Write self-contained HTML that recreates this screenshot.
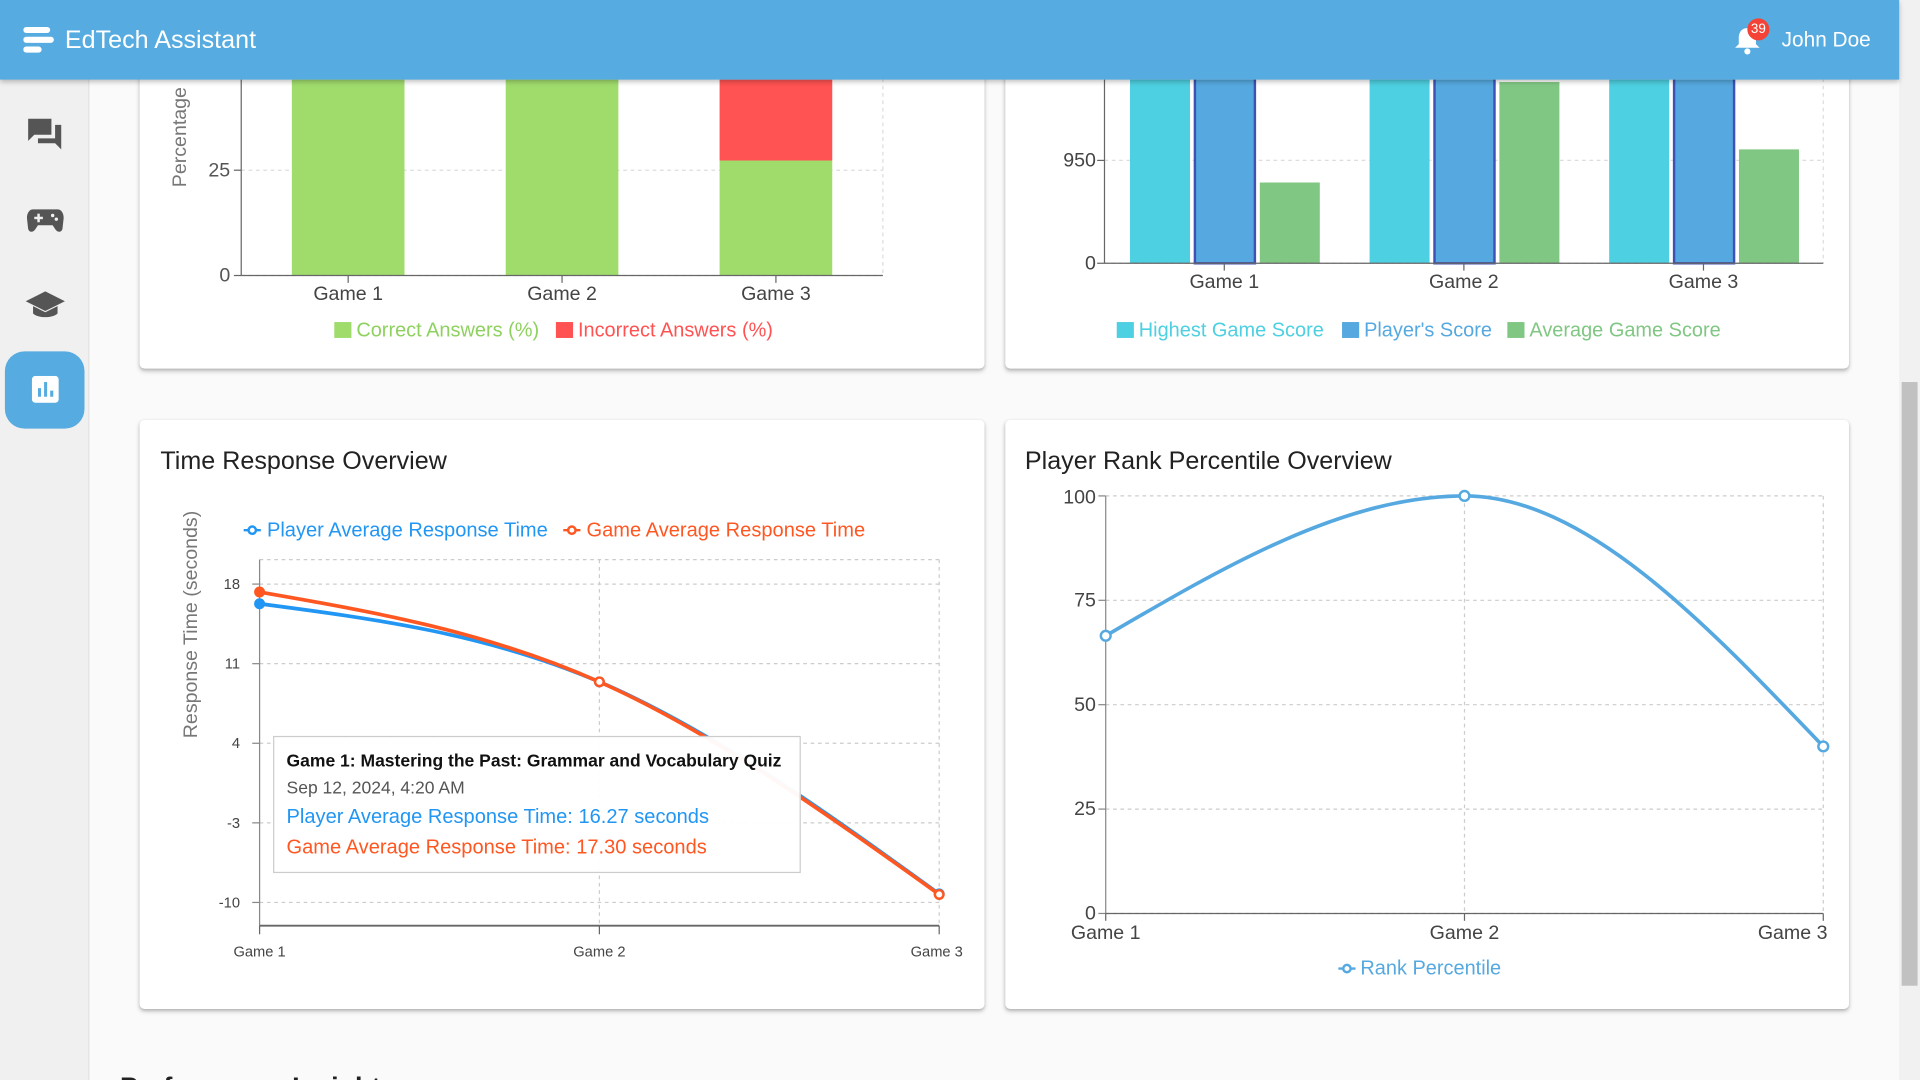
<!DOCTYPE html>
<html><head><meta charset="utf-8"><style>
*{box-sizing:border-box;margin:0;padding:0}
body{width:1920px;height:1080px;overflow:hidden;background:#fafafa;font-family:"Liberation Sans",Arial,sans-serif}
#wrap{position:absolute;left:0;top:0;width:1568px;height:882px;transform:scale(1.22449);transform-origin:0 0;background:#fafafa;overflow:hidden}
.card{position:absolute;background:#fff;border-radius:4px;box-shadow:0 2px 4px rgba(0,0,0,.2),0 1px 2px rgba(0,0,0,.12)}
#header{position:absolute;left:0;top:0;width:1551px;height:65px;background:#56abe0;box-shadow:0 2px 4px rgba(0,0,0,.25);z-index:5}
#sidebar{position:absolute;left:0;top:65px;width:73px;height:817px;background:#f0f0f0;border-right:1px solid #e2e2e2}
.title{position:absolute;font-size:20.5px;color:#222}
svg text{font-family:"Liberation Sans",Arial,sans-serif}
</style></head><body>
<div id="wrap">
<div id="header">
  <svg style="position:absolute;left:19px;top:20px" width="26" height="26"><rect x="0" y="2" width="22" height="5" rx="2.5" fill="#fff"/><rect x="0" y="10" width="25" height="5" rx="2.5" fill="#fff"/><rect x="0" y="18" width="15" height="5" rx="2.5" fill="#fff"/></svg>
  <div style="position:absolute;left:53px;top:21px;color:#fff;font-size:20.5px">EdTech Assistant</div>
  <svg style="position:absolute;left:1414px;top:20px" width="26" height="26"><path d="M13 3 C8 3 6 7 6 11 L6 16 L3 19 L23 19 L20 16 L20 11 C20 7 18 3 13 3Z" fill="#fff"/><circle cx="13" cy="22" r="2.5" fill="#fff"/></svg>
  <div style="position:absolute;left:1427px;top:15px;width:18px;height:18px;border-radius:9px;background:#f44336;color:#fff;font-size:11px;text-align:center;line-height:18px">39</div>
  <div style="position:absolute;left:1455px;top:23px;color:#fff;font-size:17px">John Doe</div>
</div>
<div id="sidebar">
  <svg style="position:absolute;left:21px;top:30px" width="32" height="30"><path d="M2 2h19v13H7l-5 5z" fill="#555"/><path d="M24 7h5v20l-5-5H10v-4h14z" fill="#555"/></svg>
  <svg style="position:absolute;left:21px;top:102px" width="32" height="26"><path d="M6 4h20c3 0 5 3 5 7l-1 9c-1 3-4 3-6 0l-2-3H10l-2 3c-2 3-5 3-6 0l-1-9c0-4 2-7 5-7z" fill="#555"/><rect x="7" y="10" width="7" height="2" fill="#f0f0f0"/><rect x="9.5" y="7.5" width="2" height="7" fill="#f0f0f0"/><circle cx="22" cy="9" r="1.4" fill="#f0f0f0"/><circle cx="25" cy="12" r="1.4" fill="#f0f0f0"/></svg>
  <svg style="position:absolute;left:20px;top:170px" width="34" height="28"><path d="M17 3L1 11l16 8 16-8z" fill="#555"/><path d="M7 15v6c4 4 16 4 20 0v-6l-10 5z" fill="#555"/></svg>
  <div style="position:absolute;left:4px;top:222px;width:65px;height:63px;border-radius:16px;background:#56abe0">
    <svg style="position:absolute;left:22px;top:20px" width="22" height="22"><rect x="0" y="0" width="22" height="22" rx="3" fill="#fff"/><rect x="5" y="10" width="2.5" height="7" fill="#56abe0"/><rect x="10" y="5" width="2.5" height="12" fill="#56abe0"/><rect x="15" y="12" width="2.5" height="5" fill="#56abe0"/></svg>
  </div>
</div>
<div style="position:absolute;left:1551px;top:0;width:17px;height:882px;background:#f1f1f1"><div style="position:absolute;left:2px;top:312px;width:13px;height:493px;background:#c1c1c1"></div></div>

<div class="card" style="left:114px;top:30px;width:690px;height:271px"></div>
<div class="card" style="left:821px;top:30px;width:689px;height:271px"></div>
<div class="card" style="left:114px;top:343px;width:690px;height:481px">
  <div class="title" style="left:17px;top:22px">Time Response Overview</div></div>
<div class="card" style="left:821px;top:343px;width:689px;height:481px">
  <div class="title" style="left:16px;top:22px">Player Rank Percentile Overview</div></div>
<div style="position:absolute;left:98px;top:875px;font-size:22px;font-weight:bold;color:#222">Performance Insights</div>

<svg id="charts" style="position:absolute;left:0;top:0" width="1568" height="882"></svg>
<div style="position:absolute;left:223px;top:601px;width:431px;height:112px;background:rgba(255,255,255,.96);border:1px solid #ccc;z-index:3">
  <div style="position:absolute;left:10px;top:12px;font-size:14.3px;font-weight:bold;color:#111">Game 1: Mastering the Past: Grammar and Vocabulary Quiz</div>
  <div style="position:absolute;left:10px;top:34px;font-size:14.3px;color:#555">Sep 12, 2024, 4:20 AM</div>
  <div style="position:absolute;left:10px;top:56px;font-size:16.4px;color:#2196f3">Player Average Response Time: 16.27 seconds</div>
  <div style="position:absolute;left:10px;top:81px;font-size:16.4px;color:#ff5722">Game Average Response Time: 17.30 seconds</div>
</div>
</div>
<script>
// Chart 1 data
const c1Categories = ["Game 1","Game 2","Game 3"];
const c1Correct = [100, 100, 27.3];
const c1Incorrect = [0, 0, 72.7];
const c1Ticks = [0, 25];
// Chart 2 data
const c2Categories = ["Game 1","Game 2","Game 3"];
const c2Highest = [2500, 2500, 2500];
const c2Player = [2450, 2450, 2450];
const c2Average = [746, 1674, 1052];
const c2Ticks = [0, 950];
// Chart 3 data
const c3Categories = ["Game 1","Game 2","Game 3"];
const c3Player = [16.27, 9.4, -9.25];
const c3Game = [17.30, 9.4, -9.3];
const c3Ticks = [-10, -3, 4, 11, 18];
// Chart 4 data
const c4Categories = ["Game 1","Game 2","Game 3"];
const c4Rank = [66.5, 100, 40];
const c4Ticks = [0, 25, 50, 75, 100];

const NS = "http://www.w3.org/2000/svg";
const svg = document.getElementById("charts");
function mk(tag, attrs, parent){const e=document.createElementNS(NS,tag);for(const k in attrs)e.setAttribute(k,attrs[k]);(parent||svg).appendChild(e);return e;}
function txt(x,y,s,attrs,parent){const e=mk("text",Object.assign({x:x,y:y},attrs),parent);e.textContent=s;return e;}
function lin(d0,d1,r0,r1){return v=>r0+(v-d0)*(r1-r0)/(d1-d0);}
function monotone(pts){
  const n=pts.length, t=[];
  const sgn=v=>v<0?-1:v>0?1:0;
  for(let i=1;i<n-1;i++){const[x0,y0]=pts[i-1],[x1,y1]=pts[i],[x2,y2]=pts[i+1];const h0=x1-x0,h1=x2-x1,s0=(y1-y0)/h0,s1=(y2-y1)/h1,p=(s0*h1+s1*h0)/(h0+h1);t[i]=(sgn(s0)+sgn(s1))*Math.min(Math.abs(s0),Math.abs(s1),0.5*Math.abs(p))||0;}
  t[0]=(3*(pts[1][1]-pts[0][1])/(pts[1][0]-pts[0][0])-t[1])/2;
  t[n-1]=(3*(pts[n-1][1]-pts[n-2][1])/(pts[n-1][0]-pts[n-2][0])-t[n-2])/2;
  let d="M"+pts[0][0]+","+pts[0][1];
  for(let i=0;i<n-1;i++){const[x0,y0]=pts[i],[x1,y1]=pts[i+1],dx=(x1-x0)/3;d+=" C"+(x0+dx)+","+(y0+dx*t[i])+" "+(x1-dx)+","+(y1-dx*t[i+1])+" "+x1+","+y1;}
  return d;
}
const clip=mk("defs",{});
const cp=mk("clipPath",{id:"topclip"},clip);mk("rect",{x:0,y:65,width:1568,height:900},cp);

// ---- Chart 1
(function(){
  const g=mk("g",{"clip-path":"url(#topclip)"});
  
  
  const x0=197,x1=721, y=lin(0,25,225,139), bw=(x1-x0)/3;
  c1Ticks.forEach(v=>{mk("line",{x1:x0,x2:x1,y1:y(v),y2:y(v),stroke:"#ddd","stroke-dasharray":"3 3"},g);txt(x0-9,y(v)+5,String(v),{"text-anchor":"end","font-size":16,fill:"#555"},g);mk("line",{x1:x0-6,x2:x0,y1:y(v),y2:y(v),stroke:"#666"},g);});
  mk("line",{x1:x1,x2:x1,y1:40,y2:225,stroke:"#ddd","stroke-dasharray":"3 3"},g);
  c1Categories.forEach((c,i)=>{
    const cx=x0+bw*(i+0.5), w=92;
    const r1=mk("rect",{x:cx-w/2,y:y(c1Correct[i]),width:w,height:y(0)-y(c1Correct[i]),fill:"#a0dc6c"},g);
    
    
    const top=c1Correct[i]+c1Incorrect[i];
    const r2=mk("rect",{x:cx-w/2,y:y(top),width:w,height:y(c1Correct[i])-y(top),fill:"#ff5252"},g);
    
    
    txt(cx,245,c,{"text-anchor":"middle","font-size":16,fill:"#444"},g);
    mk("line",{x1:cx,x2:cx,y1:225,y2:231,stroke:"#666"},g);
  });
  mk("line",{x1:x0,x2:x0,y1:40,y2:225,stroke:"#666"},g);
  mk("line",{x1:x0,x2:x1,y1:225,y2:225,stroke:"#666"},g);
  const yl=txt(0,0,"Percentage",{transform:"translate(152,112) rotate(-90)","text-anchor":"middle","font-size":16,fill:"#777"},g);
  
  
  mk("rect",{x:273,y:263,width:14,height:13,fill:"#a0dc6c"});txt(291,275,"Correct Answers (%)",{"font-size":16.3,fill:"#8fd160"});
  mk("rect",{x:454,y:263,width:14,height:13,fill:"#ff5252"});txt(472,275,"Incorrect Answers (%)",{"font-size":16.3,fill:"#ff5252"});
})();

// ---- Chart 2
(function(){
  const g=mk("g",{"clip-path":"url(#topclip)"});
  
  
  const x0=902,x1=1489,y=lin(0,950,215,131),bw=(x1-x0)/3;
  c2Ticks.forEach(v=>{mk("line",{x1:x0,x2:x1,y1:y(v),y2:y(v),stroke:"#ddd","stroke-dasharray":"3 3"},g);txt(x0-7,y(v)+5,String(v),{"text-anchor":"end","font-size":16,fill:"#444"},g);mk("line",{x1:x0-6,x2:x0,y1:y(v),y2:y(v),stroke:"#666"},g);});
  mk("line",{x1:x1,x2:x1,y1:40,y2:215,stroke:"#ddd","stroke-dasharray":"3 3"},g);
  c2Categories.forEach((c,i)=>{
    const cx=x0+bw*(i+0.5);
    const series=[[c2Highest,"#4dd0e1",null,"highest"],[c2Player,"#56a9e0","#3f51b5","player"],[c2Average,"#81c784",null,"average"]];
    series.forEach((s,j)=>{
      const bx=cx-77+j*53, v=s[0][i];
      const r=mk("rect",{x:bx,y:y(v),width:49,height:y(0)-y(v),fill:s[1]},g);
      if(s[2]){r.setAttribute("stroke",s[2]);r.setAttribute("stroke-width","2");}
      
      
    });
    txt(cx,235,c,{"text-anchor":"middle","font-size":16,fill:"#444"},g);
    mk("line",{x1:cx,x2:cx,y1:215,y2:221,stroke:"#666"},g);
  });
  mk("line",{x1:x0,x2:x0,y1:40,y2:215,stroke:"#666"},g);
  mk("line",{x1:x0,x2:x1,y1:215,y2:215,stroke:"#666"},g);
  mk("rect",{x:912,y:263,width:14,height:13,fill:"#4dd0e1"});txt(930,275,"Highest Game Score",{"font-size":16.3,fill:"#4dd0e1"});
  mk("rect",{x:1096,y:263,width:14,height:13,fill:"#56a9e0"});txt(1114,275,"Player's Score",{"font-size":16.3,fill:"#56a9e0"});
  mk("rect",{x:1231,y:263,width:14,height:13,fill:"#81c784"});txt(1249,275,"Average Game Score",{"font-size":16.3,fill:"#81c784"});
})();

// ---- Chart 3
(function(){
  const g=mk("g",{});
  
  
  const x0=212,x1=767,y=lin(18,11,477,542),xs=i=>x0+i*(x1-x0)/(c3Categories.length-1);
  mk("line",{x1:x0,x2:x1,y1:457,y2:457,stroke:"#ccc","stroke-dasharray":"3 3"},g);
  c3Ticks.forEach(v=>{mk("line",{x1:x0,x2:x1,y1:y(v),y2:y(v),stroke:"#ccc","stroke-dasharray":"3 3"},g);txt(x0-16,y(v)+4,String(v),{"text-anchor":"end","font-size":12,fill:"#444"},g);mk("line",{x1:x0-6,x2:x0,y1:y(v),y2:y(v),stroke:"#888"},g);});
  c3Categories.forEach((c,i)=>{const x=xs(i);if(i>0)mk("line",{x1:x,x2:x,y1:457,y2:756,stroke:"#ccc","stroke-dasharray":"3 3"},g);mk("line",{x1:x,x2:x,y1:756,y2:763,stroke:"#666"},g);txt(i==2?x-2:x,781,c,{"text-anchor":"middle","font-size":12,fill:"#444"},g);});
  mk("line",{x1:x0,x2:x0,y1:457,y2:756,stroke:"#888"},g);
  mk("line",{x1:x0,x2:x1,y1:756,y2:756,stroke:"#666","stroke-width":1.5},g);
  [[c3Player,"#2196f3","player"],[c3Game,"#ff5722","game"]].forEach(s=>{
    const pts=s[0].map((v,i)=>[xs(i),y(v)]);
    const p=mk("path",{d:monotone(pts),fill:"none",stroke:s[1],"stroke-width":3},g);
    
    
    pts.forEach(q=>mk("circle",{cx:q[0],cy:q[1],r:3.5,fill:"#fff",stroke:s[1],"stroke-width":2},g));
  });
  mk("circle",{cx:xs(0),cy:y(c3Player[0]),r:3,fill:"#2196f3"},g);
  mk("circle",{cx:xs(0),cy:y(c3Game[0]),r:3,fill:"#ff5722"},g);
  const yl=txt(0,0,"Response Time (seconds)",{transform:"translate(161,510) rotate(-90)","text-anchor":"middle","font-size":16,fill:"#777"},g);
  
  
  mk("line",{x1:199,x2:213,y1:433,y2:433,stroke:"#2196f3","stroke-width":2});mk("circle",{cx:206,cy:433,r:3,fill:"#fff",stroke:"#2196f3","stroke-width":2});
  txt(218,438,"Player Average Response Time",{"font-size":16.4,fill:"#2196f3"});
  mk("line",{x1:460,x2:474,y1:433,y2:433,stroke:"#ff5722","stroke-width":2});mk("circle",{cx:467,cy:433,r:3,fill:"#fff",stroke:"#ff5722","stroke-width":2});
  txt(479,438,"Game Average Response Time",{"font-size":16.4,fill:"#ff5722"});
})();

// ---- Chart 4
(function(){
  const g=mk("g",{});
  
  
  const x0=903,x1=1489,y=lin(0,100,746,405),xs=i=>x0+i*(x1-x0)/(c4Categories.length-1);
  c4Ticks.forEach(v=>{mk("line",{x1:x0,x2:x1,y1:y(v),y2:y(v),stroke:"#ccc","stroke-dasharray":"3 3"},g);txt(x0-8,y(v)+5+(v==100?1:0),String(v),{"text-anchor":"end","font-size":16,fill:"#444"},g);mk("line",{x1:x0-6,x2:x0,y1:y(v),y2:y(v),stroke:"#888"},g);});
  c4Categories.forEach((c,i)=>{const x=xs(i);if(i>0)mk("line",{x1:x,x2:x,y1:405,y2:746,stroke:"#ccc","stroke-dasharray":"3 3"},g);mk("line",{x1:x,x2:x,y1:746,y2:752,stroke:"#666"},g);txt(i==0?x:i==2?x-25:x,767,c,{"text-anchor":"middle","font-size":16,fill:"#444"},g);});
  mk("line",{x1:x0,x2:x0,y1:405,y2:746,stroke:"#888"},g);
  mk("line",{x1:x0,x2:x1,y1:746,y2:746,stroke:"#666"},g);
  const pts=c4Rank.map((v,i)=>[xs(i),y(v)]);
  const p=mk("path",{d:monotone(pts),fill:"none",stroke:"#56a9e0","stroke-width":3},g);
  
  
  pts.forEach(q=>mk("circle",{cx:q[0],cy:q[1],r:4,fill:"#fff",stroke:"#56a9e0","stroke-width":2},g));
  mk("line",{x1:1093,x2:1107,y1:791,y2:791,stroke:"#56a9e0","stroke-width":2});mk("circle",{cx:1100,cy:791,r:3,fill:"#fff",stroke:"#56a9e0","stroke-width":2});
  txt(1111,796,"Rank Percentile",{"font-size":16.3,fill:"#56a9e0"});
})();
</script>
</body></html>
